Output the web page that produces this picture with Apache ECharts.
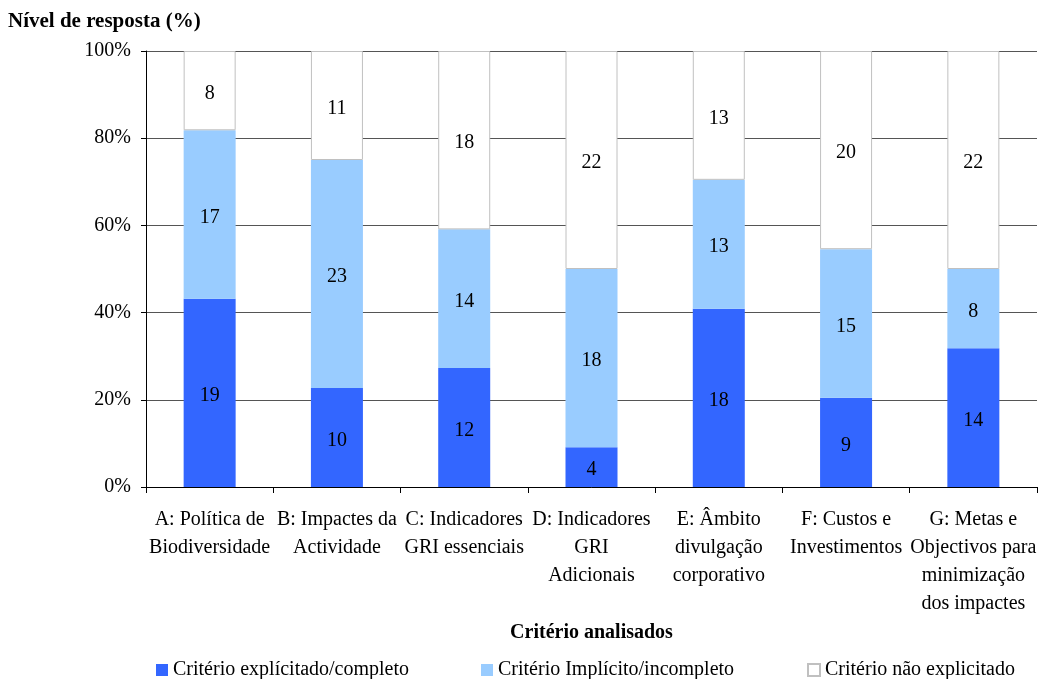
<!DOCTYPE html>
<html>
<head>
<meta charset="utf-8">
<script src="https://cdn.jsdelivr.net/npm/echarts@6/dist/echarts.min.js"></script>
<style>html,body{margin:0;padding:0;background:#fff;}#c{width:1042px;height:679px;}</style>
</head>
<body>
<div id="c"></div>
<script>
const categories = [
  "A: Política de\nBiodiversidade",
  "B: Impactes da\nActividade",
  "C: Indicadores\nGRI essenciais",
  "D: Indicadores\nGRI\nAdicionais",
  "E: Âmbito\ndivulgação\ncorporativo",
  "F: Custos e\nInvestimentos",
  "G: Metas e\nObjectivos para\nminimização\ndos impactes"
];
const seriesNames = ["Critério explícitado/completo", "Critério Implícito/incompleto", "Critério não explicitado"];
const explicito = [19, 10, 12, 4, 18, 9, 14];
const implicito = [17, 23, 14, 18, 13, 15, 8];
const naoExplicito = [8, 11, 18, 22, 13, 20, 22];
const yTicks = ["0%", "20%", "40%", "60%", "80%", "100%"];

const totals = explicito.map((v, i) => v + implicito[i] + naoExplicito[i]);
const pct = arr => arr.map((v, i) => ({ value: v / totals[i] * 100, count: v }));

const FONT = "Liberation Serif";
const FS = 20;
const chart = echarts.init(document.getElementById('c'), null, { renderer: 'canvas' });

const labelCfg = {
  show: true, position: 'inside', offset: [0, 3], color: '#000', fontFamily: FONT, fontSize: FS,
  formatter: p => p.data.count
};

function mkSeries(name, data, color, border) {
  return {
    name: name, type: 'bar', stack: 'total', data: pct(data), barWidth: 52,
    itemStyle: { color: color, borderColor: border || color, borderWidth: border ? 1 : 0 },
    label: labelCfg,
    emphasis: { disabled: true }
  };
}

const legendBase = {
  top: 655, icon: 'rect', itemWidth: 12, itemHeight: 12, itemGap: 4,
  textStyle: { fontFamily: FONT, fontSize: FS, color: '#000' }
};

chart.setOption({
  animation: false,
  title: {
    text: 'Nível de resposta (%)', left: 3, top: 6,
    textStyle: { fontFamily: FONT, fontSize: 21, fontWeight: 'bold', color: '#000' }
  },
  legend: [
    Object.assign({}, legendBase, { left: 151, data: [seriesNames[0]] }),
    Object.assign({}, legendBase, { left: 476, data: [seriesNames[1]] }),
    Object.assign({}, legendBase, { left: 802, data: [seriesNames[2]] })
  ],
  grid: { left: 146, right: 5, top: 51, bottom: 192, containLabel: false },
  xAxis: {
    type: 'category', data: categories,
    name: 'Critério analisados', nameLocation: 'middle', nameGap: 133,
    nameTextStyle: { fontFamily: FONT, fontSize: FS, fontWeight: 'bold', color: '#000' },
    axisLine: { lineStyle: { color: '#000', width: 1 } },
    axisTick: { show: true, length: 6, lineStyle: { color: '#000' } },
    axisLabel: { fontFamily: FONT, fontSize: FS, color: '#000', lineHeight: 28, margin: 19, interval: 0 }
  },
  yAxis: {
    type: 'value', min: 0, max: 100, interval: 20,
    axisLine: { show: true, lineStyle: { color: '#000', width: 1 } },
    axisTick: { show: true, length: 5, lineStyle: { color: '#000' } },
    axisLabel: {
      fontFamily: FONT, fontSize: FS, color: '#000', margin: 15,
      formatter: v => yTicks[Math.round(v / 20)]
    },
    splitLine: { show: true, lineStyle: { color: '#555', width: 1 } }
  },
  series: [
    mkSeries(seriesNames[0], explicito, '#3366FF'),
    mkSeries(seriesNames[1], implicito, '#99CCFF'),
    mkSeries(seriesNames[2], naoExplicito, '#FFFFFF', '#C0C0C0')
  ]
});
</script>
</body>
</html>
